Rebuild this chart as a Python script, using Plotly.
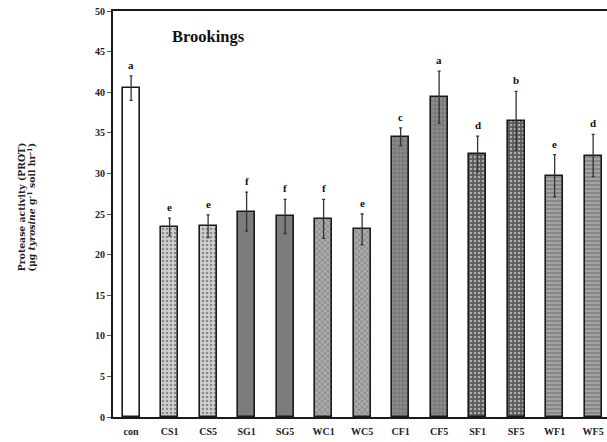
import plotly.graph_objects as go

categories = ["con", "CS1", "CS5", "SG1", "SG5", "WC1", "WC5",
              "CF1", "CF5", "SF1", "SF5", "WF1", "WF5"]
values = [40.5, 23.4, 23.5, 25.3, 24.7, 24.4, 23.1, 34.5, 39.4, 32.4, 36.5, 29.7, 32.2]
errors = [1.5, 1.1, 1.4, 2.4, 2.1, 2.4, 1.9, 1.1, 3.2, 2.2, 3.6, 2.6, 2.6]
letters = ["a", "e", "e", "f", "f", "f", "e", "c", "a", "d", "b", "e", "d"]
y_ticks = [0, 5, 10, 15, 20, 25, 30, 35, 40, 45, 50]
y_title_lines = ["Protease activity (PROT)",
                 "(μg <i>tyrosine</i> g<sup>-1</sup> soil hr<sup>-1</sup>)"]

# styles per bar group
bg = ["#ffffff", "#cfcfcf", "#cfcfcf", "#7c7c7c", "#7c7c7c", "#ababab", "#ababab",
      "#8c8c8c", "#8c8c8c", "#5c5c5c", "#5c5c5c", "#a3a3a3", "#a3a3a3"]
fg = ["#ffffff", "#f2f2f2", "#f2f2f2", "#7c7c7c", "#7c7c7c", "#e6e6e6", "#e6e6e6",
      "#f0f0f0", "#f0f0f0", "#bdbdbd", "#bdbdbd", "#f5f5f5", "#f5f5f5"]
shape = ["", ".", ".", "", "", "x", "x", "+", "+", ".", ".", "-", "-"]

FONT = "Liberation Serif"

fig = go.Figure()
fig.add_trace(go.Bar(
    x=list(range(len(categories))), y=values, width=0.44,
    marker=dict(color=bg, line=dict(color="#1a1a1a", width=1.6),
                pattern=dict(shape=shape, fgcolor=fg, bgcolor=bg, size=4,
                             solidity=0.3, fillmode="overlay")),
    error_y=dict(type="data", array=errors, visible=True, color="#333333",
                 thickness=1.3, width=1.5),
    showlegend=False,
))

annotations = []
for i, (v, e, l) in enumerate(zip(values, errors, letters)):
    annotations.append(dict(x=i, y=v + e, xref="x", yref="y", text="<b>%s</b>" % l,
                            showarrow=False, yanchor="bottom", yshift=3,
                            font=dict(family=FONT, size=11, color="#111")))
annotations.append(dict(x=0.194, y=0.936, xref="paper", yref="paper",
                        xanchor="center", yanchor="middle",
                        text="<b>Brookings</b>", showarrow=False,
                        font=dict(family=FONT, size=16.5, color="#111")))
for k, (line, px) in enumerate(zip(y_title_lines, [21.5, 31.5])):
    annotations.append(dict(x=(px - 113) / 494, y=0.518 if k == 0 else 0.515,
                            xref="paper", yref="paper", textangle=-90,
                            xanchor="center", yanchor="middle",
                            text="<b>%s</b>" % line, showarrow=False,
                            font=dict(family="DejaVu Serif", size=9.3, color="#222")))

fig.update_layout(
    width=607, height=442,
    margin=dict(l=113, r=0, t=11, b=25),
    paper_bgcolor="white", plot_bgcolor="white",
    annotations=annotations,
    bargap=0,
    xaxis=dict(range=[-0.47, 12.36], tickmode="array",
               tickvals=list(range(len(categories))),
               ticktext=["<b>%s</b>" % c for c in categories],
               showline=True, linecolor="#1a1a1a", linewidth=2, mirror=True,
               ticks="", showgrid=False, zeroline=False, ticklabelstandoff=4,
               tickfont=dict(family=FONT, size=10, color="#222")),
    yaxis=dict(range=[0, 50], tickmode="array", tickvals=y_ticks,
               ticktext=["<b>%d</b>" % t for t in y_ticks],
               showline=True, linecolor="#1a1a1a", linewidth=2,
               ticks="outside", ticklen=4, tickcolor="#555",
               showgrid=False, zeroline=False,
               tickfont=dict(family=FONT, size=10, color="#222")),
)

fig.write_html("out.html")
